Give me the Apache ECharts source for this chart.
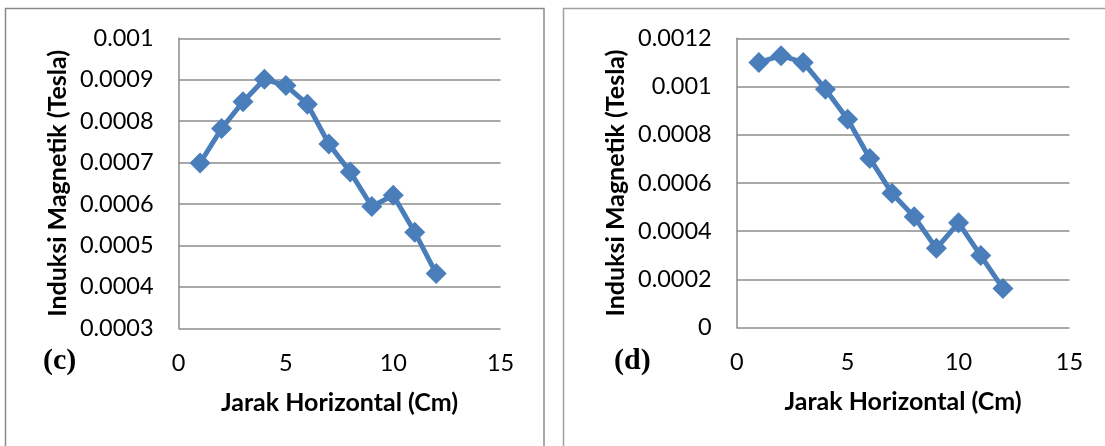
<!DOCTYPE html>
<html>
<head>
<meta charset="utf-8">
<script src="https://cdn.jsdelivr.net/npm/echarts@6/dist/echarts.min.js"></script>
<style>
  html, body { margin: 0; padding: 0; background: #fff; }
  #main { width: 1105px; height: 446px; }
</style>
</head>
<body>
<div id="main"></div>
<script>
  // jarak horizontal (cm)
  const jarak = [1, 2, 3, 4, 5, 6, 7, 8, 9, 10, 11, 12];

  // grafik (c)
  const induksiC = [0.000699, 0.000782, 0.000847, 0.000901, 0.000886, 0.000841,
    0.000745, 0.000677, 0.000594, 0.000621, 0.000532, 0.000432];

  // grafik (d)
  const induksiD = [0.0011, 0.001128, 0.0011, 0.000989, 0.000864, 0.000702,
    0.000557, 0.00046, 0.000329, 0.000435, 0.000299, 0.000163];

  const panelLabels = ['(c)', '(d)'];
  const xTitle = 'Jarak Horizontal (Cm)';
  const yTitle = 'Induksi Magnetik (Tesla)';

  const blue = '#4a7ebb';
  const gridGray = '#8c8c8c';
  const tickFont = { fontFamily: 'Lato', fontSize: 23.5, color: '#000' };
  const titleFont = { fontFamily: 'Lato', fontSize: 25, fontWeight: 'bold', color: '#000' };
  const panelFont = { fontFamily: 'Liberation Serif', fontSize: 30, fontWeight: 'bold', color: '#000' };

  function fmt(v) {
    return String(+v.toFixed(4));
  }

  function pairs(ys) {
    return jarak.map((x, i) => [x, ys[i]]);
  }

  function xAxisOf(idx) {
    return {
      type: 'value', gridIndex: idx, min: 0, max: 15, interval: 5,
      axisLine: { show: false },
      axisTick: { show: false },
      splitLine: { show: false },
      axisLabel: Object.assign({ margin: 23 }, tickFont),
      name: xTitle, nameLocation: 'middle', nameGap: 62,
      nameTextStyle: titleFont
    };
  }

  function yAxisOf(idx, min, max, interval) {
    return {
      type: 'value', gridIndex: idx, min: min, max: max, interval: interval,
      axisLine: { show: true, lineStyle: { color: gridGray, width: 1.5 } },
      axisTick: { show: false },
      splitLine: { show: true, lineStyle: { color: gridGray, width: 1.5 } },
      axisLabel: Object.assign({ margin: 25, formatter: fmt }, tickFont),
      name: yTitle, nameLocation: 'middle', nameGap: 108,
      nameTextStyle: titleFont
    };
  }

  function lineSeries(idx, ys) {
    return {
      type: 'line', xAxisIndex: idx, yAxisIndex: idx,
      data: pairs(ys),
      symbol: 'diamond', symbolSize: 21,
      lineStyle: { color: blue, width: 5 },
      itemStyle: { color: blue },
      animation: false
    };
  }

  const chart = echarts.init(document.getElementById('main'), null, { renderer: 'canvas' });

  const option = {
    backgroundColor: '#fff',
    animation: false,
    title: [
      { text: panelLabels[0], left: 38, top: 341, textStyle: panelFont },
      { text: panelLabels[1], left: 609, top: 341, textStyle: panelFont }
    ],
    grid: [
      { left: 178.6, top: 38.3, width: 322, height: 290 },
      { left: 736.7, top: 38.3, width: 332.8, height: 289.4 }
    ],
    xAxis: [xAxisOf(0), xAxisOf(1)],
    yAxis: [
      yAxisOf(0, 0.0003, 0.001, 0.0001),
      yAxisOf(1, 0, 0.0012, 0.0002)
    ],
    series: [lineSeries(0, induksiC), lineSeries(1, induksiD)],
    graphic: [
      { type: 'rect', shape: { x: 5.5, y: 8.5, width: 538.5, height: 470 },
        style: { fill: 'none', stroke: '#8a8a8a', lineWidth: 1.5 }, silent: true },
      { type: 'rect', shape: { x: 563.5, y: 8.5, width: 600, height: 470 },
        style: { fill: 'none', stroke: '#a0a0a0', lineWidth: 1.5 }, silent: true }
    ]
  };

  chart.setOption(option);
</script>
</body>
</html>
